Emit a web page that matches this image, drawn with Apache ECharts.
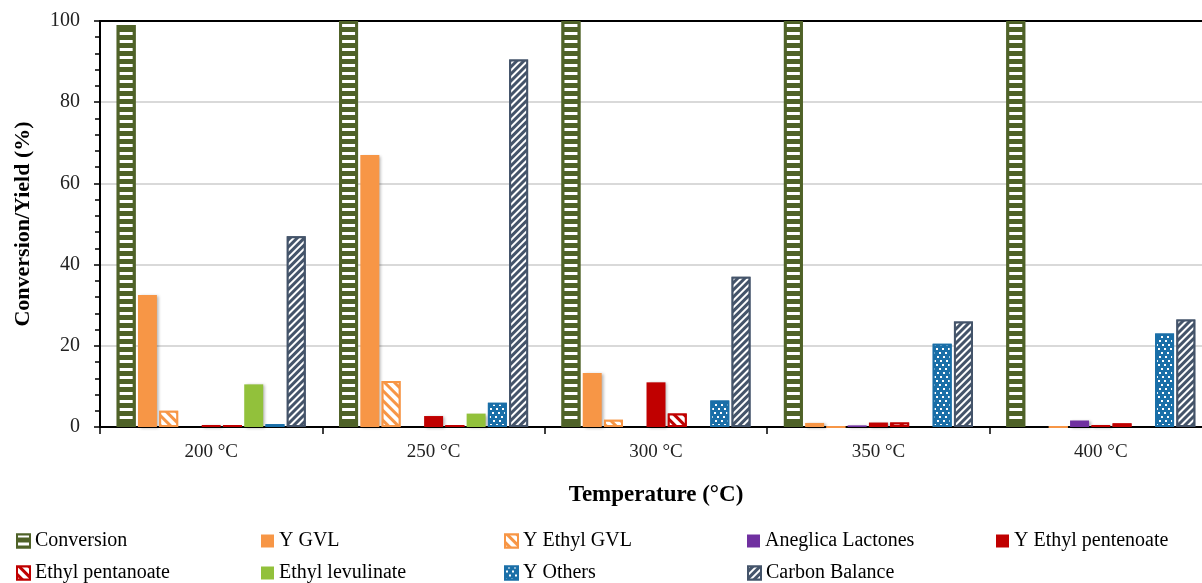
<!DOCTYPE html>
<html>
<head>
<meta charset="utf-8">
<script src="https://cdn.jsdelivr.net/npm/echarts@6/dist/echarts.min.js"></script>
<style>html,body{margin:0;padding:0;background:#fff;}#c{width:1202px;height:583px;}</style>
</head>
<body>
<div id="c"></div>
<script>
var categories = ['200 °C', '250 °C', '300 °C', '350 °C', '400 °C'];
var conversion = [99, 100, 100, 100, 100];
var yGVL = [32.5, 67, 13.3, 1, 0];
var yEthylGVL = [4, 11.3, 1.8, 0, 0];
var aneglicaLactones = [0, 0, 0, 0.4, 1.6];
var yEthylPentenoate = [0.5, 2.7, 11, 1.1, 0.5];
var ethylPentanoate = [0.5, 0.5, 3.3, 1.1, 0.9];
var ethylLevulinate = [10.5, 3.3, 0, 0, 0];
var yOthers = [0.7, 6, 6.5, 20.5, 23];
var carbonBalance = [47, 90.5, 37, 26, 26.5];
var yTicks = [0, 20, 40, 60, 80, 100];

var FONT = '"Liberation Serif", "Times New Roman", serif';

function style(color, border, bw, decal) {
  var s = {color: color, borderColor: border, borderWidth: bw};
  if (decal) s.decal = decal;
  else Object.assign(s, {shadowColor: 'rgba(0,0,0,0.3)', shadowBlur: 3, shadowOffsetX: 2, shadowOffsetY: 1});
  return s;
}

var series = [
  {name: 'Conversion', data: conversion,
   itemStyle: style('#4f6228', '#4f6228', 3, {symbol: 'rect', color: '#ffffff', dashArrayX: [1, 0], dashArrayY: [3, 5], rotation: 0})},
  {name: 'Y GVL', data: yGVL, itemStyle: style('#f79646', '#f79646', 0)},
  {name: 'Y Ethyl GVL', data: yEthylGVL,
   itemStyle: style('#f79646', '#f79646', 2, {symbol: 'rect', color: '#ffffff', dashArrayX: [1, 0], dashArrayY: [3.5, 3], rotation: Math.PI / 4})},
  {name: 'Aneglica Lactones', data: aneglicaLactones, itemStyle: style('#7030a0', '#7030a0', 0)},
  {name: 'Y Ethyl pentenoate', data: yEthylPentenoate, itemStyle: style('#c00000', '#c00000', 0)},
  {name: 'Ethyl pentanoate', data: ethylPentanoate,
   itemStyle: style('#c00000', '#c00000', 2, {symbol: 'rect', color: '#ffffff', dashArrayX: [1, 0], dashArrayY: [3.5, 3], rotation: Math.PI / 4})},
  {name: 'Ethyl levulinate', data: ethylLevulinate, itemStyle: style('#92c13b', '#92c13b', 0)},
  {name: 'Y Others', data: yOthers,
   itemStyle: style('#1a6fa8', '#1a6fa8', 2, {symbol: 'rect', color: '#ffffff', symbolSize: 1,
     dashArrayX: [[2, 4], [0, 3, 2, 1], [0, 1, 2, 3], [0, 4, 2, 0]], dashArrayY: [2, 1.5]})},
  {name: 'Carbon Balance', data: carbonBalance,
   itemStyle: style('#44546a', '#44546a', 2, {symbol: 'rect', color: '#ffffff', dashArrayX: [1, 0], dashArrayY: [2, 2.5], rotation: -Math.PI / 4})}
].map(function (s) {
  return Object.assign({type: 'bar', barGap: '12%', barCategoryGap: '15%', emphasis: {disabled: true}}, s);
});

var legendPos = [
  ['Conversion', 16, 530], ['Y GVL', 261, 530], ['Y Ethyl GVL', 504, 530],
  ['Aneglica Lactones', 747, 530], ['Y Ethyl pentenoate', 996, 530],
  ['Ethyl pentanoate', 16, 562], ['Ethyl levulinate', 261, 562], ['Y Others', 504, 562],
  ['Carbon Balance', 747, 562]
];
var legends = legendPos.map(function (p) {
  return {left: p[1], top: p[2], itemWidth: 13, itemHeight: 13, padding: 0,
    icon: 'rect', data: [p[0]], selectedMode: false,
    textStyle: {fontFamily: FONT, fontSize: 20, color: '#000', lineHeight: 22}};
});

var chart = echarts.init(document.getElementById('c'));
chart.setOption({
  animation: false,
  backgroundColor: '#fff',
  grid: {left: 100, top: 21, width: 1112, height: 406, outerBoundsMode: 'none', containLabel: false},
  legend: legends,
  xAxis: [{
    type: 'category', data: categories, position: 'bottom',
    name: 'Temperature (°C)', nameLocation: 'middle', nameGap: 57,
    nameTextStyle: {fontFamily: FONT, fontSize: 23, fontWeight: 'bold', color: '#000'},
    axisLine: {lineStyle: {color: '#000', width: 2}},
    axisTick: {show: true, length: 7, lineStyle: {color: '#000', width: 1.5}},
    axisLabel: {fontFamily: FONT, fontSize: 19, color: '#222', margin: 16}
  }, {
    type: 'category', data: categories, position: 'top',
    axisLine: {show: true, lineStyle: {color: '#000', width: 2}},
    axisTick: {show: false}, axisLabel: {show: false}
  }],
  yAxis: {
    type: 'value', min: yTicks[0], max: yTicks[yTicks.length - 1], interval: 20,
    name: 'Conversion/Yield (%)', nameLocation: 'middle', nameGap: 66, nameRotate: 90,
    nameTextStyle: {fontFamily: FONT, fontSize: 22, fontWeight: 'bold', color: '#000'},
    axisLine: {show: true, lineStyle: {color: '#000', width: 2}},
    axisTick: {show: true, length: 6, lineStyle: {color: '#000', width: 1.5}},
    minorTick: {show: true, splitNumber: 5, length: 5, lineStyle: {color: '#000', width: 1.5}},
    splitLine: {show: true, lineStyle: {color: '#d9d9d9', width: 2}},
    axisLabel: {fontFamily: FONT, fontSize: 20, color: '#222', margin: 20}
  },
  series: series
});
</script>
</body>
</html>
